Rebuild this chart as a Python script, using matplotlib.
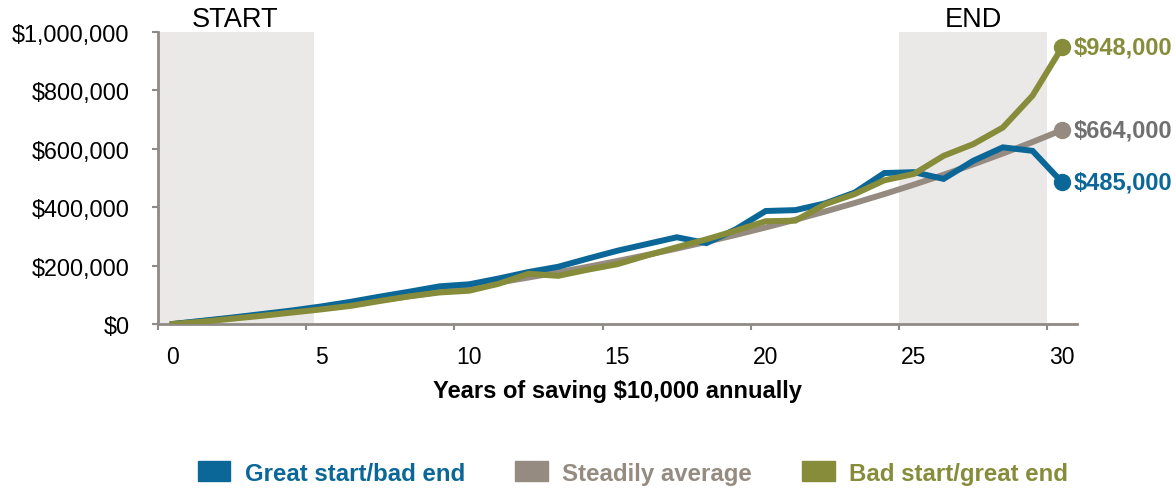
import matplotlib
matplotlib.use("Agg")
import matplotlib.pyplot as plt
from matplotlib.patches import Patch
from matplotlib.ticker import FuncFormatter

plt.rcParams["font.family"] = ["Liberation Sans", "DejaVu Sans"]

# values in dollars, one per year 0..30
years = list(range(31))
great_start = [0, 11000, 22000, 34000, 46000, 60000, 76000, 94000, 111000, 129000,
               136000, 156000, 178000, 196000, 224000, 251000, 274000, 297000, 277000, 325000,
               387000, 390000, 413000, 450000, 517000, 520000, 497000, 559000, 605000, 593000,
               485000]
steady = [0, 10000, 20500, 31500, 43100, 55300, 68000, 81400, 95500, 110300,
          125800, 142100, 159200, 177100, 196000, 215800, 236600, 258400, 281300, 305400,
          330700, 357200, 385100, 414300, 445000, 477300, 511100, 546700, 584000, 623200,
          664400]
bad_start = [0, 8000, 18000, 28000, 39000, 50000, 62000, 79000, 95000, 108000,
             114000, 138000, 172000, 165000, 186000, 205000, 235000, 263000, 290000, 320000,
             352000, 354000, 410000, 445000, 492000, 514000, 576000, 616000, 673000, 782000,
             948000]

series_names = ["Great start/bad end", "Steadily average", "Bad start/great end"]
end_labels = ["$485,000", "$664,000", "$948,000"]
x_tick_labels = ["0", "5", "10", "15", "20", "25", "30"]
y_ticks = [0, 200000, 400000, 600000, 800000, 1000000]

blue = "#0b6797"
gray = "#958b80"
olive = "#868c3a"
shade = "#ebe9e7"
spine = "#8f8a85"

fig = plt.figure(figsize=(11.76, 4.89), dpi=100)
ax = fig.add_axes([158 / 1176, 164 / 489, 919 / 1176, 292 / 489])

# start / end windows
ax.axvspan(-0.5, 4.75, color=shade, lw=0, zorder=0)
ax.axvspan(24.5, 29.5, color=shade, lw=0, zorder=0)
ax.text(2.1, 1.0, "START", transform=ax.get_xaxis_transform(), ha="center", va="bottom",
        fontsize=19.5)
ax.text(27.0, 1.0, "END", transform=ax.get_xaxis_transform(), ha="center", va="bottom",
        fontsize=19.5)

lw = 4.3
ax.plot(years, steady, color=gray, lw=lw, zorder=2, solid_joinstyle="miter")
ax.plot(years, great_start, color=blue, lw=lw, zorder=3, solid_joinstyle="miter")
ax.plot(years, bad_start, color=olive, lw=lw, zorder=4, solid_joinstyle="miter")

text_colors = [blue, "#707070", olive]
for vals, col, tcol, lab in zip([great_start, steady, bad_start], [blue, gray, olive],
                                text_colors, end_labels):
    ax.plot(years[-1], vals[-1], "o", color=col, ms=11.5, zorder=5, clip_on=False)
    ax.annotate(lab, (years[-1], vals[-1]), xytext=(8, 0), textcoords="offset points",
                ha="left", va="center", fontsize=17, fontweight="bold", color=tcol,
                annotation_clip=False)

ax.set_xlim(-0.5, 30.5)
ax.set_ylim(0, 1000000)

# category style axis: ticks between groups, labels on the years
ax.set_xticks([-0.5, 4.5, 9.5, 14.5, 19.5, 24.5, 29.5])
ax.set_xticklabels([])
ax.set_xticks(years[::5], minor=True)
ax.set_xticklabels(x_tick_labels, minor=True)
ax.tick_params(axis="x", which="major", length=4.5, width=1.5, color=spine, direction="out")
ax.tick_params(axis="x", which="minor", length=0, pad=15, labelsize=16.5)

ax.set_yticks(y_ticks)
ax.yaxis.set_major_formatter(FuncFormatter(lambda v, p: f"${v:,.0f}"))
ax.tick_params(axis="y", length=4.5, width=1.5, color=spine, pad=16, labelsize=16.8)

for s in ["top", "right"]:
    ax.spines[s].set_visible(False)
for s in ["left", "bottom"]:
    ax.spines[s].set_color(spine)
    ax.spines[s].set_linewidth(2)

ax.set_xlabel("Years of saving $10,000 annually", fontsize=17, fontweight="bold", labelpad=8)

handles = [Patch(color=c) for c in [blue, gray, olive]]
leg = fig.legend(handles, series_names, loc="center", bbox_to_anchor=(633 / 1176, 15 / 489),
                 ncol=3, frameon=False, handlelength=1.35, handleheight=0.9,
                 handletextpad=0.6, columnspacing=2.1,
                 prop={"size": 17.3, "weight": "bold"})
for txt, c in zip(leg.get_texts(), [blue, gray, olive]):
    txt.set_color(c)

fig.savefig("out.png", dpi=100)
